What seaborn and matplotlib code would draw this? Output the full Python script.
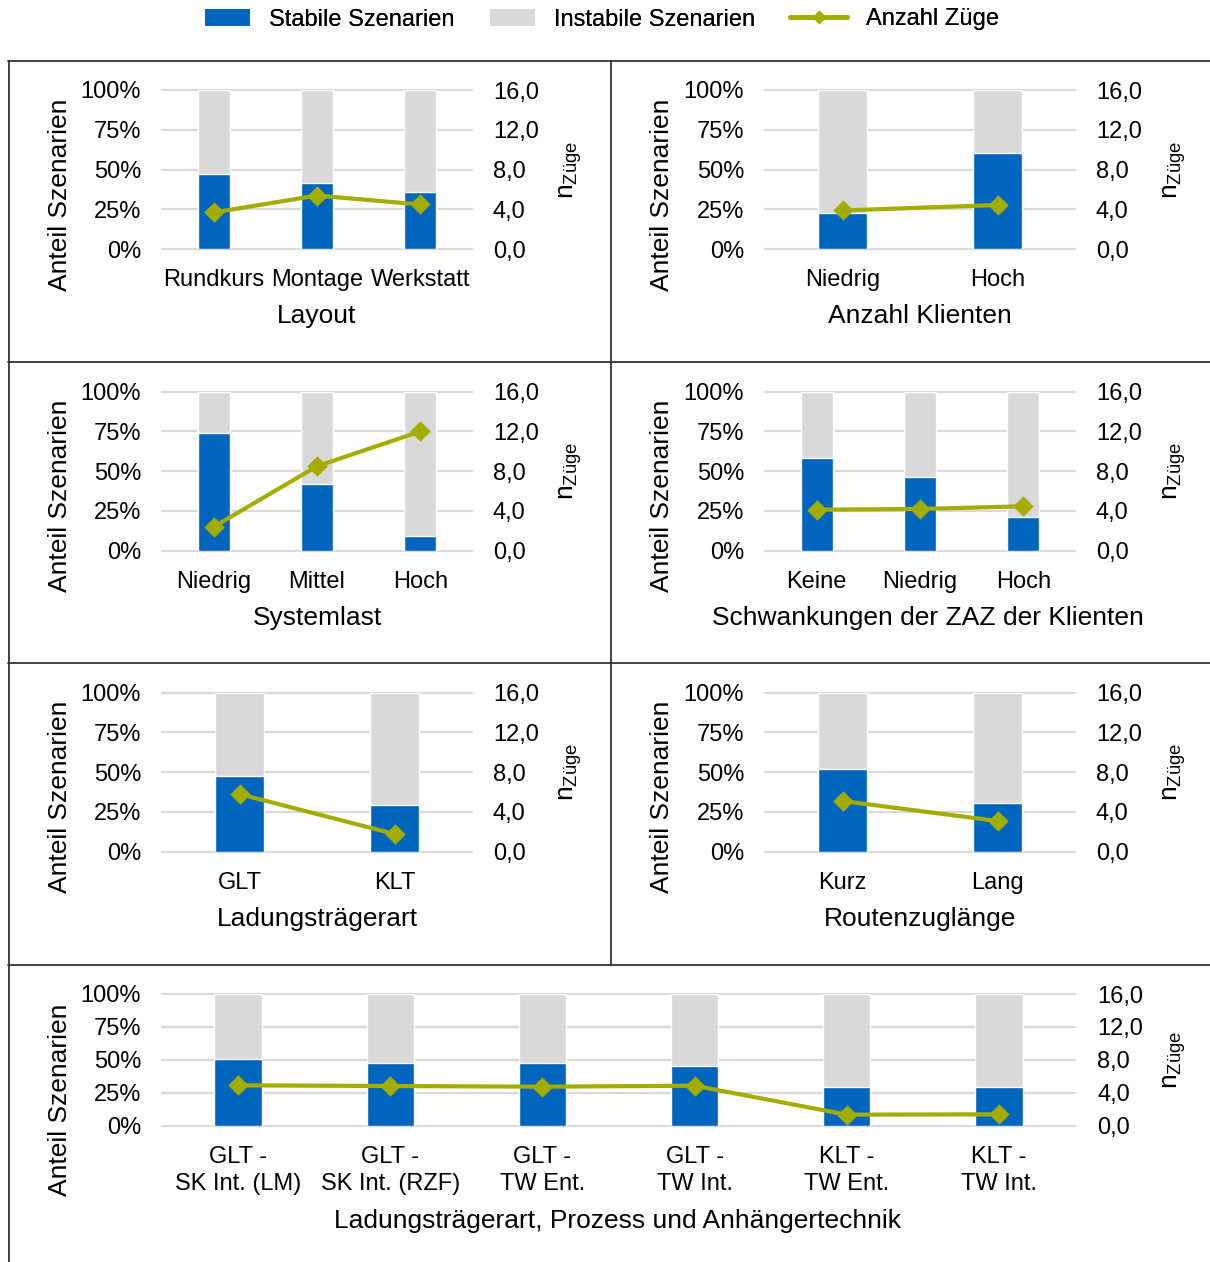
import matplotlib
matplotlib.use("Agg")
import matplotlib.pyplot as plt
import seaborn as sns
import pandas as pd
from matplotlib.lines import Line2D
from matplotlib.patches import Patch
from matplotlib.ticker import FuncFormatter, FixedLocator

# ---- data: share of stable scenarios (%) and number of trains per factor level ----
layout_cats = ["Rundkurs", "Montage", "Werkstatt"]
layout_stable = [47.3, 41.8, 36.0]
layout_trains = [3.7, 5.4, 4.5]

klienten_cats = ["Niedrig", "Hoch"]
klienten_stable = [23.0, 60.6]
klienten_trains = [3.9, 4.45]

systemlast_cats = ["Niedrig", "Mittel", "Hoch"]
systemlast_stable = [74.2, 42.0, 9.4]
systemlast_trains = [2.4, 8.5, 12.0]

zaz_cats = ["Keine", "Niedrig", "Hoch"]
zaz_stable = [58.3, 46.2, 21.2]
zaz_trains = [4.13, 4.2, 4.47]

lt_cats = ["GLT", "KLT"]
lt_stable = [47.6, 29.2]
lt_trains = [5.8, 1.78]

route_cats = ["Kurz", "Lang"]
route_stable = [52.0, 30.8]
route_trains = [5.1, 3.09]

combo_cats = ["GLT -\nSK Int. (LM)", "GLT -\nSK Int. (RZF)", "GLT -\nTW Ent.",
              "GLT -\nTW Int.", "KLT -\nTW Ent.", "KLT -\nTW Int."]
combo_stable = [50.6, 47.8, 47.6, 45.1, 29.4, 29.4]
combo_trains = [4.91, 4.82, 4.74, 4.86, 1.34, 1.38]

# ---- style ----
BLUE = "#0065BD"
GREY = "#D9D9D9"
OLIVE = "#A3AD00"
GRID = "#D9D9D9"
FRAME = "#333333"

W, H = 1210, 1262
sns.set_style("white")
plt.rcParams["font.family"] = ["Liberation Sans", "DejaVu Sans"]
plt.rcParams["mathtext.fontset"] = "custom"
plt.rcParams["mathtext.rm"] = "Liberation Sans"
plt.rcParams["mathtext.it"] = "Liberation Sans"
plt.rcParams["text.color"] = "black"
plt.rcParams["xtick.color"] = "black"
plt.rcParams["ytick.color"] = "black"
plt.rcParams["axes.labelcolor"] = "black"

TICK_FS = 17
TITLE_FS = 19

fig = plt.figure(figsize=(W / 100, H / 100), dpi=100)


def fx(x):
    return x / W


def fy(y):
    return 1 - y / H


def panel(box, cats, stable, trains, title, title_xy, ylab_xy, nlab_xy, right_pad=15):
    x0, y0, x1, y1 = box
    ax = fig.add_axes([fx(x0), fy(y1), (x1 - x0) / W, (y1 - y0) / H])
    df = pd.DataFrame({"cat": cats, "stable": stable, "total": [100.0] * len(cats)})

    sns.barplot(data=df, x="cat", y="total", color=GREY, width=0.31,
                saturation=1, ax=ax, zorder=2)
    sns.barplot(data=df, x="cat", y="stable", color=BLUE, width=0.31,
                saturation=1, ax=ax, zorder=3)
    ax.set_ylim(0, 100)
    ax.yaxis.set_major_locator(FixedLocator([0, 25, 50, 75, 100]))
    ax.yaxis.set_major_formatter(FuncFormatter(lambda v, p: f"{v:.0f}%"))
    ax.grid(axis="y", color=GRID, lw=1.6, zorder=0)
    ax.grid(axis="x", visible=False)
    ax.set_axisbelow(True)
    for gl in ax.get_ygridlines():
        gl.set_clip_on(False)
    for s in ax.spines.values():
        s.set_visible(False)
    ax.tick_params(axis="y", length=0, pad=15, labelsize=TICK_FS, labelcolor="black")
    ax.tick_params(axis="x", length=0, pad=14.5, labelsize=TICK_FS, labelcolor="black")
    for lab in ax.get_xticklabels():
        lab.set_linespacing(1.3)
    ax.set_xlabel("")
    ax.set_ylabel("")

    ax2 = ax.twinx()
    tdf = pd.DataFrame({"cat": cats, "trains": trains})
    sns.pointplot(data=tdf, x="cat", y="trains", color=OLIVE, markers="D",
                  markersize=8, linewidth=3, errorbar=None, ax=ax2)
    ax2.set_ylim(0, 16)
    ax2.yaxis.set_major_locator(FixedLocator([0, 4, 8, 12, 16]))
    ax2.yaxis.set_major_formatter(FuncFormatter(lambda v, p: f"{v:.1f}".replace(".", ",")))
    ax2.tick_params(axis="y", length=0, pad=right_pad, labelsize=TICK_FS, labelcolor="black")
    ax2.grid(False)
    for s in ax2.spines.values():
        s.set_visible(False)
    ax2.set_xlabel("")
    ax2.set_ylabel("")
    ax2.set_xlim(ax.get_xlim())

    fig.text(fx(title_xy[0]), fy(title_xy[1]), title, ha="center", va="center",
             fontsize=TITLE_FS)
    fig.text(fx(ylab_xy[0]), fy(ylab_xy[1]), "Anteil Szenarien", ha="center",
             va="center", rotation=90, fontsize=TITLE_FS)
    fig.text(fx(nlab_xy[0]), fy(nlab_xy[1]), r"$\mathregular{n_{Züge}}$", ha="center",
             va="center", rotation=90, fontsize=TITLE_FS)
    return ax


LX = (162, 472)
RX = (765, 1075)
rows = [(90, 249.3), (391.7, 550.7), (692.7, 851.7)]

panel((LX[0], rows[0][0], LX[1], rows[0][1]), layout_cats, layout_stable, layout_trains,
      "Layout", (317, 316), (60, 195), (571, 170))
panel((RX[0], rows[0][0], RX[1], rows[0][1]), klienten_cats, klienten_stable, klienten_trains,
      "Anzahl Klienten", (920, 316), (662, 195), (1175, 170))
panel((LX[0], rows[1][0], LX[1], rows[1][1]), systemlast_cats, systemlast_stable, systemlast_trains,
      "Systemlast", (317, 618), (60, 496), (571, 471))
panel((RX[0], rows[1][0], RX[1], rows[1][1]), zaz_cats, zaz_stable, zaz_trains,
      "Schwankungen der ZAZ der Klienten", (928, 618), (662, 496), (1175, 471))
panel((LX[0], rows[2][0], LX[1], rows[2][1]), lt_cats, lt_stable, lt_trains,
      "Ladungsträgerart", (317, 919), (60, 797), (571, 772))
panel((RX[0], rows[2][0], RX[1], rows[2][1]), route_cats, route_stable, route_trains,
      "Routenzuglänge", (920, 919), (662, 797), (1175, 772))
panel((162, 994, 1075, 1125.7), combo_cats, combo_stable, combo_trains,
      "Ladungsträgerart, Prozess und Anhängertechnik", (618, 1221), (60, 1100),
      (1175, 1060), right_pad=16)

# ---- panel frames ----
frame_lines = [
    ((8, 60.5), (1210, 60.5)),
    ((8, 361.5), (1210, 361.5)),
    ((8, 663), (1210, 663)),
    ((8, 964.5), (1210, 964.5)),
    ((8.5, 60.5), (8.5, 1262)),
    ((611, 60.5), (611, 964.5)),
]
for (xa, ya), (xb, yb) in frame_lines:
    fig.add_artist(Line2D([fx(xa), fx(xb)], [fy(ya), fy(yb)], color=FRAME, lw=1.3,
                          transform=fig.transFigure))

# ---- legend: one entry per legend box so each key keeps its own width ----
legend_entries = [
    (Patch(facecolor=BLUE, edgecolor="none", label="Stabile Szenarien"), 205, 1.9),
    (Patch(facecolor=GREY, edgecolor="none", label="Instabile Szenarien"), 490, 1.9),
    (Line2D([0], [0], color=OLIVE, lw=3.5, marker="D", markersize=6.5, label="Anzahl Züge"),
     790, 2.42),
]
for handle, x_left, hlen in legend_entries:
    leg = fig.legend(handles=[handle], loc="center left", bbox_to_anchor=(fx(x_left), fy(19.5)),
                     frameon=False, fontsize=TICK_FS, handlelength=hlen, handletextpad=0.8,
                     handleheight=0.72, borderpad=0, borderaxespad=0)
    fig.add_artist(leg)

fig.savefig("out.png", dpi=100)
